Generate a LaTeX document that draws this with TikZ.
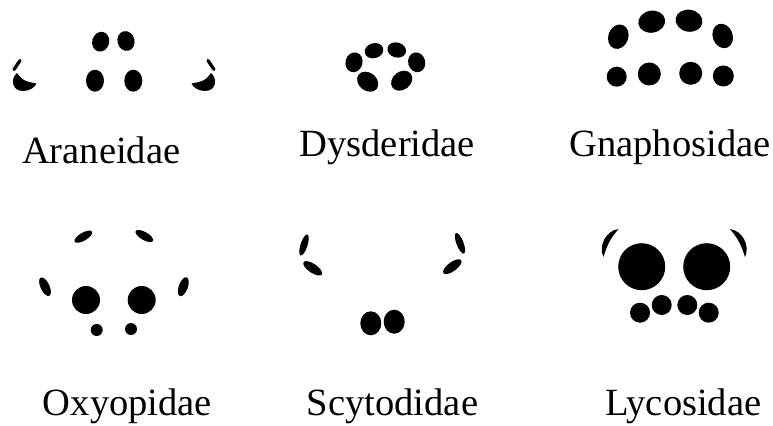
\documentclass[tikz,border=0pt]{standalone}
\usepackage{fontspec}
\setmainfont{Liberation Serif}
\usepackage{tikz}

\begin{document}
\begin{tikzpicture}[x=0.75pt,y=0.75pt,
  eye/.style={fill=black},
  stroke/.style={line width=2.4pt,line cap=round},
  family/.style={anchor=base,inner sep=0pt,font=\fontsize{28.9pt}{34pt}\selectfont}
]
\useasboundingbox (0,0) rectangle (773,425);
% Araneidae
\fill[eye] (100.7,383.3) ellipse [x radius=8.5,y radius=10,rotate=-15];
\fill[eye] (126,384) ellipse [x radius=8.5,y radius=10,rotate=15];
\fill[eye] (95,344.3) ellipse [x radius=9,y radius=11];
\fill[eye] (133.3,344.3) ellipse [x radius=9,y radius=11];
\fill[eye] (17,352) .. controls (10,346) and (12,334) .. (23,334)
  .. controls (30,334) and (35,338) .. (36.5,341.5)
  .. controls (31,342.5) and (25.5,343.5) .. (22.5,346)
  .. controls (20,348) and (18.5,350) .. (17,352);
\fill[eye] (211,352) .. controls (218,346) and (216,334) .. (205,334)
  .. controls (198,334) and (193,338) .. (191.5,341.5)
  .. controls (197,342.5) and (202.5,343.5) .. (205.5,346)
  .. controls (208,348) and (209.5,350) .. (211,352);
\draw[stroke] (14,355.5) -- (20,364.5);
\draw[stroke] (214,355.5) -- (208,364.5);
\node[family] (ara) at (101.3,261) {Araneidae};
% Dysderidae
\fill[eye] (354,362.7) ellipse [x radius=8.5,y radius=10,rotate=-15];
\fill[eye] (374,374.3) ellipse [x radius=9.5,y radius=7.5,rotate=15];
\fill[eye] (396.7,375) ellipse [x radius=9.5,y radius=7.5,rotate=-15];
\fill[eye] (416.7,362.7) ellipse [x radius=8.5,y radius=10,rotate=15];
\fill[eye] (367.7,343.3) ellipse [x radius=11.5,y radius=9,rotate=-38];
\fill[eye] (401.7,344.3) ellipse [x radius=11.5,y radius=9,rotate=38];
\node[family] (dys) at (387.3,268.3) {Dysderidae};
% Gnaphosidae
\fill[eye] (618.3,388.3) ellipse [x radius=10,y radius=12.5,rotate=-20];
\fill[eye] (651.7,403.3) ellipse [x radius=13.5,y radius=11,rotate=10];
\fill[eye] (689,404.3) ellipse [x radius=13.5,y radius=11,rotate=-10];
\fill[eye] (722.7,389) ellipse [x radius=10,y radius=12.5,rotate=20];
\fill[eye] (616.7,348.3) circle [radius=10];
\fill[eye] (649.3,351) circle [radius=11.5];
\fill[eye] (690.7,351.7) circle [radius=11.5];
\fill[eye] (723.3,349) circle [radius=10.5];
\node[family] (gna) at (670,268.3) {Gnaphosidae};
% Oxyopidae
\fill[eye] (83.3,188.3) ellipse [x radius=10,y radius=4,rotate=30];
\fill[eye] (144.3,189) ellipse [x radius=10,y radius=4,rotate=-30];
\fill[eye] (45,138.3) ellipse [x radius=4.5,y radius=10,rotate=25];
\fill[eye] (183.3,138.3) ellipse [x radius=4.5,y radius=10,rotate=-20];
\fill[eye] (86,125) circle [radius=14];
\fill[eye] (141.7,125) circle [radius=14];
\fill[eye] (96.7,95) circle [radius=6];
\fill[eye] (131,96) circle [radius=6];
\node[family] (oxy) at (127.5,10) {Oxyopidae};
% Scytodidae
\fill[eye] (304,180) ellipse [x radius=3.5,y radius=11,rotate=-18];
\fill[eye] (312.7,156.7) ellipse [x radius=11,y radius=4.5,rotate=-34];
\fill[eye] (460,181.7) ellipse [x radius=3.5,y radius=11,rotate=21];
\fill[eye] (452.3,158.3) ellipse [x radius=11,y radius=4.5,rotate=36];
\fill[eye] (370.8,101.7) ellipse [x radius=10.5,y radius=12];
\fill[eye] (394.2,103.3) ellipse [x radius=10.5,y radius=12];
\node[family] (scy) at (392.5,10) {Scytodidae};
% Lycosidae
\fill[eye] (641.7,158.3) circle [radius=23.5];
\fill[eye] (706.7,158.3) circle [radius=23.5];
\fill[eye] (640,112.3) circle [radius=10];
\fill[eye] (661.7,120) circle [radius=10];
\fill[eye] (687.3,120) circle [radius=10];
\fill[eye] (708.7,112.3) circle [radius=10];
\fill[eye] (603.5,168) to[bend left=55] (618.5,196) to[bend right=12] (603.5,168);
\fill[eye] (744.9,168) to[bend right=55] (729.9,196) to[bend left=12] (744.9,168);
\node[family] (lyc) at (683.3,10) {Lycosidae};
\end{tikzpicture}
\end{document}
